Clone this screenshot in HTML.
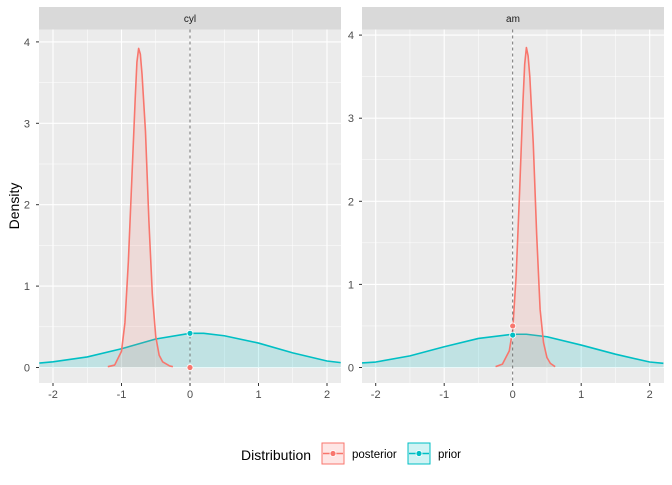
<!DOCTYPE html>
<html><head><meta charset="utf-8"><style>
body{margin:0;background:#fff;}
text{font-family:"Liberation Sans",Arial,sans-serif;}
</style></head><body>
<svg id="chart" width="672" height="480" xmlns="http://www.w3.org/2000/svg"></svg>
<script>
const facets = ["cyl","am"];
const xTicks = [-2,-1,0,1,2];
const yTicks = [0,1,2,3,4];
const priorXLeft = [-2.2,-2,-1.5,-1,-0.5,0,0.2,0.5,1,1.5,2,2.2];
const priorYLeft = [0.055,0.07,0.13,0.23,0.35,0.42,0.42,0.39,0.30,0.18,0.08,0.06];
const priorXRight = [-2.2,-2,-1.5,-1,-0.5,0,0.2,0.5,1,1.5,2,2.2];
const priorYRight = [0.055,0.066,0.14,0.25,0.35,0.40,0.40,0.37,0.27,0.16,0.066,0.05];
const postXLeft = [-1.2,-1.1,-1.0,-0.95,-0.9,-0.85,-0.8,-0.775,-0.75,-0.725,-0.7,-0.65,-0.6,-0.55,-0.5,-0.45,-0.4,-0.3,-0.25];
const postYLeft = [0.01,0.03,0.2,0.55,1.3,2.3,3.3,3.75,3.92,3.85,3.6,2.9,1.8,0.9,0.38,0.15,0.07,0.02,0.01];
const postXRight = [-0.25,-0.15,-0.05,0,0.05,0.1,0.15,0.175,0.2,0.225,0.25,0.3,0.35,0.4,0.45,0.5,0.55,0.62];
const postYRight = [0.01,0.04,0.2,0.45,1.1,2.1,3.2,3.65,3.85,3.75,3.5,2.7,1.6,0.7,0.3,0.12,0.05,0.01];
const pointPost = [0, 0.5];
const pointPrior = [0.42, 0.39];

const NS="http://www.w3.org/2000/svg";
const svg=document.getElementById('chart');
function mk(tag,attrs,parent){const e=document.createElementNS(NS,tag);for(const k in attrs)e.setAttribute(k,attrs[k]);(parent||svg).appendChild(e);return e;}

const panels=[
 {x0:39,x1:341,xc:190,y0:367.5,ky:81.4,ylab:30,px:priorXLeft,py:priorYLeft,qx:postXLeft,qy:postYLeft},
 {x0:362,x1:664,xc:512.7,y0:367.5,ky:83.1,ylab:354,px:priorXRight,py:priorYRight,qx:postXRight,qy:postYRight}
];
const kx=68.5, panelTop=29.5, bot=383;

panels.forEach((p,i)=>{
  const X=v=>p.xc+v*kx, Y=v=>p.y0-v*p.ky;
  const g=mk('g',{});
  
  
  const bg=mk('rect',{x:p.x0,y:panelTop,width:p.x1-p.x0,height:bot-panelTop,fill:'#EBEBEB'},g);
  
  
  for(let v=-2.5;v<=2.5;v+=1){const xx=X(v);if(xx>p.x0&&xx<p.x1)mk('line',{x1:xx,x2:xx,y1:panelTop,y2:bot,stroke:'#fff','stroke-width':0.5},g);}
  for(let v=0.5;v<=4.5;v+=1){const yy=Y(v);if(yy>panelTop)mk('line',{x1:p.x0,x2:p.x1,y1:yy,y2:yy,stroke:'#fff','stroke-width':0.5},g);}
  xTicks.forEach(v=>{mk('line',{x1:X(v),x2:X(v),y1:panelTop,y2:bot,stroke:'#fff','stroke-width':1.1},g);
    const t=mk('text',{x:X(v),y:bot+15,'text-anchor':'middle','font-size':11,fill:'#4D4D4D'},g);t.textContent=v;
    
    mk('line',{x1:X(v),x2:X(v),y1:bot,y2:bot+3,stroke:'#333'},g);});
  yTicks.forEach(v=>{mk('line',{x1:p.x0,x2:p.x1,y1:Y(v),y2:Y(v),stroke:'#fff','stroke-width':1.1},g);
    const t=mk('text',{x:p.ylab,y:Y(v)+4,'text-anchor':'end','font-size':11,fill:'#4D4D4D'},g);t.textContent=v;
    
    mk('line',{x1:p.x0-3,x2:p.x0,y1:Y(v),y2:Y(v),stroke:'#333'},g);});
  const st=mk('rect',{x:p.x0,y:7,width:p.x1-p.x0,height:22.5,fill:'#D9D9D9'},g);
  
  const sl=mk('text',{x:(p.x0+p.x1)/2,y:22,'text-anchor':'middle','font-size':10,fill:'#1A1A1A'},g);sl.textContent=facets[i];
  
  const cp=mk('clipPath',{id:'c'+i},g);mk('rect',{x:p.x0,y:panelTop,width:p.x1-p.x0,height:bot-panelTop},cp);
  const cg=mk('g',{'clip-path':'url(#c'+i+')'},g);
  function area(xs,ys,col,name,op){
    let d='M'+xs.map((x,j)=>X(x)+','+Y(ys[j])).join('L');
    const a=mk('path',{d:d+'L'+X(xs[xs.length-1])+','+Y(0)+'L'+X(xs[0])+','+Y(0)+'Z',fill:col,'fill-opacity':op},cg);
    
    const l=mk('path',{d:d,fill:'none',stroke:col,'stroke-width':1.6,'stroke-linejoin':'round'},cg);
    
  }
  area(p.px,p.py,'#00BFC4','prior',0.18);
  area(p.qx,p.qy,'#F8766D','posterior',0.15);
  const dl=mk('line',{x1:X(0),x2:X(0),y1:panelTop,y2:bot,stroke:'#666','stroke-dasharray':'3,3','stroke-width':0.9},g);
  
  const c1=mk('circle',{cx:X(0),cy:Y(pointPost[i]),r:3,fill:'#F8766D',stroke:'#fff','stroke-width':0.8},g);
  
  const c2=mk('circle',{cx:X(0),cy:Y(pointPrior[i]),r:3,fill:'#00BFC4',stroke:'#fff','stroke-width':0.8},g);
  
});
const yt=mk('text',{x:0,y:0,transform:'translate(19,206) rotate(-90)','text-anchor':'middle','font-size':14,fill:'#000'});
yt.textContent='Density';

const lg=mk('g',{});

const lt=mk('text',{x:241,y:460,'font-size':14,fill:'#000'},lg);lt.textContent='Distribution';

[['posterior','#F8766D',322],['prior','#00BFC4',408]].forEach(([n,c,x])=>{
  const e=mk('g',{},lg);
  
  mk('rect',{x:x,y:443,width:22,height:21,fill:c,'fill-opacity':0.18,stroke:c,'stroke-width':1},e);
  mk('line',{x1:x+1,x2:x+21,y1:453.5,y2:453.5,stroke:c,'stroke-width':1.6},e);
  mk('circle',{cx:x+11,cy:453.5,r:3,fill:c,stroke:'#fff','stroke-width':0.8},e);
  const t=mk('text',{x:x+30,y:458,'font-size':11.5,fill:'#000'},e);t.textContent=n;
});
</script>
</body></html>
